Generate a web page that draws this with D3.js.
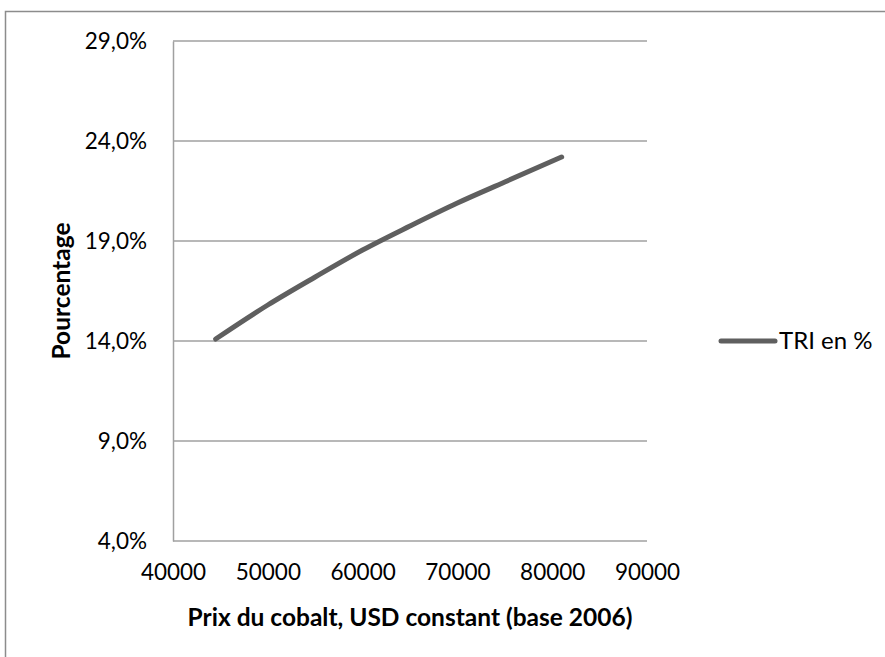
<!DOCTYPE html>
<html>
<head>
<meta charset="utf-8">
<script src="https://cdn.jsdelivr.net/npm/d3@7"></script>
<style>
  body { margin: 0; background: #fff; }
  svg { display: block; font-family: Lato, "Open Sans", sans-serif; }
</style>
</head>
<body>
<div id="chart"></div>
<script>
// -- DATA --
var prix = [44500, 50000, 55000, 60000, 65000, 70000, 75000, 81000]
var tri = [14.1, 15.8, 17.2, 18.55, 19.75, 20.9, 21.95, 23.2]
var yTicks = [4, 9, 14, 19, 24, 29]
var xTicks = [40000, 50000, 60000, 70000, 80000, 90000]
var serieName = 'TRI en %'

// -- LAYOUT --
var width = 885, height = 657
var margin = {left: 173, right: 238, top: 41, bottom: 116}

var svg = d3.select('#chart').append('svg')
  .attr('width', width)
  .attr('height', height)

// outer chart border
svg.append('rect')
  .attr('x', 5.5).attr('y', 11.5)
  .attr('width', 900).attr('height', 700)
  .style('fill', 'none')
  .style('stroke', '#8c8c8c')
  .style('stroke-width', '1.5px')

var xMap = d3.scaleLinear()
  .domain([40000, 90000])
  .range([margin.left, width - margin.right])

var yMap = d3.scaleLinear()
  .domain([4, 29])
  .range([height - margin.bottom, margin.top])

// gridlines
svg.append('g').selectAll('line')
  .data(yTicks)
  .enter().append('line')
  .attr('x1', xMap(40000))
  .attr('x2', xMap(90000))
  .attr('y1', d => yMap(d))
  .attr('y2', d => yMap(d))
  .style('stroke', '#a0a0a0')
  .style('stroke-width', '1.5px')

// y axis
var yAxis = d3.axisLeft(yMap)
  .tickValues(yTicks)
  .tickSize(0)
  .tickPadding(26)
  .tickFormat(d => d3.format('.1f')(d).replace('.', ',') + '%')

var gY = svg.append('g')
  .attr('transform', 'translate(' + margin.left + ',0)')
  .call(yAxis)
gY.select('.domain').style('stroke', '#a0a0a0').style('stroke-width', '1.5px')
gY.selectAll('text')
  .style('font-family', 'Lato, sans-serif')
  .style('font-size', '22.5px')
  .style('fill', '#000')

// x axis
var xAxis = d3.axisBottom(xMap)
  .tickValues(xTicks)
  .tickSize(0)
  .tickPadding(23)
  .tickFormat(d3.format('d'))

var gX = svg.append('g')
  .attr('transform', 'translate(0,' + yMap(4) + ')')
  .call(xAxis)
gX.select('.domain').remove()
gX.selectAll('text')
  .style('font-family', 'Lato, sans-serif')
  .style('font-size', '22.5px')
  .style('fill', '#000')

// axis titles
svg.append('text')
  .attr('x', (xMap(40000) + xMap(90000)) / 2)
  .attr('y', 626)
  .style('text-anchor', 'middle')
  .style('font-weight', '700')
  .style('font-size', '24.5px')
  .text('Prix du cobalt, USD constant (base 2006)')

svg.append('text')
  .attr('transform', 'translate(70,' + yMap(16.5) + ') rotate(-90)')
  .style('text-anchor', 'middle')
  .style('font-weight', '700')
  .style('font-size', '24.5px')
  .text('Pourcentage')

// series
var points = prix.map((p, i) => ({x: p, y: tri[i]}))
var line = d3.line()
  .x(d => xMap(d.x))
  .y(d => yMap(d.y))
  .curve(d3.curveMonotoneX)

svg.append('path')
  .datum(points)
  .attr('d', line)
  .style('fill', 'none')
  .style('stroke', '#5f5f5f')
  .style('stroke-width', '5px')
  .style('stroke-linecap', 'round')

// legend
var gLeg = svg.append('g')
  .attr('transform', 'translate(721,' + yMap(14) + ')')
gLeg.append('line')
  .attr('x1', 0).attr('x2', 54)
  .style('stroke', '#5f5f5f')
  .style('stroke-width', '5px')
  .style('stroke-linecap', 'round')
gLeg.append('text')
  .attr('x', 58)
  .attr('dy', '0.35em')
  .style('font-size', '24px')
  .text(serieName)
</script>
</body>
</html>
